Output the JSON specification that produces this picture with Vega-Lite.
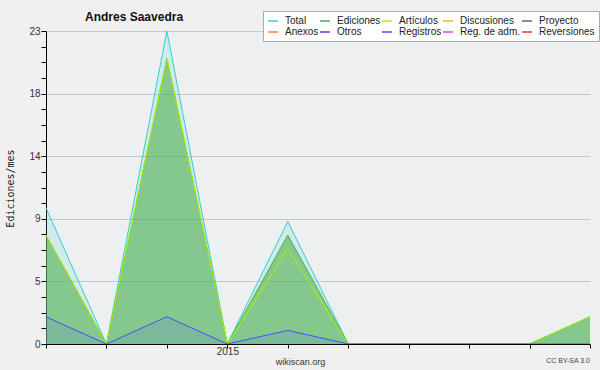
{
  "$schema": "https://vega.github.io/schema/vega-lite/v6.json",
  "width": 544,
  "height": 313,
  "autosize": "none",
  "padding": {"left": 46, "top": 31, "right": 10, "bottom": 26},
  "background": "#f0f0f0",
  "config": {"view": {"fill": "#eeeff1", "stroke": null}, "font": "Liberation Sans"},
  "title": {"text": "Andres Saavedra", "font": "Liberation Sans", "fontSize": 12, "fontWeight": "bold", "color": "#111111", "anchor": "start", "frame": "group", "dx": 39, "baseline": "alphabetic", "offset": -22},
  "data": {"values": [
    {"m": "2014-10", "s": "Total", "v": 10}, {"m": "2014-11", "s": "Total", "v": 0}, {"m": "2014-12", "s": "Total", "v": 23}, {"m": "2015-01", "s": "Total", "v": 0}, {"m": "2015-02", "s": "Total", "v": 9}, {"m": "2015-03", "s": "Total", "v": 0}, {"m": "2015-04", "s": "Total", "v": 0}, {"m": "2015-05", "s": "Total", "v": 0}, {"m": "2015-06", "s": "Total", "v": 0}, {"m": "2015-07", "s": "Total", "v": 2},
    {"m": "2014-10", "s": "Ediciones", "v": 8}, {"m": "2014-11", "s": "Ediciones", "v": 0}, {"m": "2014-12", "s": "Ediciones", "v": 21}, {"m": "2015-01", "s": "Ediciones", "v": 0}, {"m": "2015-02", "s": "Ediciones", "v": 8}, {"m": "2015-03", "s": "Ediciones", "v": 0}, {"m": "2015-04", "s": "Ediciones", "v": 0}, {"m": "2015-05", "s": "Ediciones", "v": 0}, {"m": "2015-06", "s": "Ediciones", "v": 0}, {"m": "2015-07", "s": "Ediciones", "v": 2},
    {"m": "2014-10", "s": "Artículos", "v": 8}, {"m": "2014-11", "s": "Artículos", "v": 0}, {"m": "2014-12", "s": "Artículos", "v": 21}, {"m": "2015-01", "s": "Artículos", "v": 0}, {"m": "2015-02", "s": "Artículos", "v": 7}, {"m": "2015-03", "s": "Artículos", "v": 0}, {"m": "2015-04", "s": "Artículos", "v": 0}, {"m": "2015-05", "s": "Artículos", "v": 0}, {"m": "2015-06", "s": "Artículos", "v": 0}, {"m": "2015-07", "s": "Artículos", "v": 2},
    {"m": "2014-10", "s": "Registros", "v": 2}, {"m": "2014-11", "s": "Registros", "v": 0}, {"m": "2014-12", "s": "Registros", "v": 2}, {"m": "2015-01", "s": "Registros", "v": 0}, {"m": "2015-02", "s": "Registros", "v": 1}, {"m": "2015-03", "s": "Registros", "v": 0}, {"m": "2015-04", "s": "Registros", "v": 0}, {"m": "2015-05", "s": "Registros", "v": 0}, {"m": "2015-06", "s": "Registros", "v": 0}, {"m": "2015-07", "s": "Registros", "v": 0}
  ]},
  "encoding": {
    "x": {
      "field": "m", "type": "ordinal",
      "scale": {"type": "point", "padding": 0, "domain": ["2014-10", "2014-11", "2014-12", "2015-01", "2015-02", "2015-03", "2015-04", "2015-05", "2015-06", "2015-07"]},
      "axis": {
        "title": "wikiscan.org", "titleFont": "Liberation Sans", "titleFontSize": 9, "titleFontWeight": "normal", "titleColor": "#333333",
        "titleX": 254, "titleY": 17, "titleBaseline": "middle", "titleAlign": "center",
        "labelExpr": "datum.value == '2015-01' ? '2015' : ''", "labelAngle": 0, "labelFont": "Liberation Sans", "labelFontSize": 10, "labelColor": "#333333",
        "labelPadding": -2, "labelBaseline": "top", "tickSize": 4, "tickColor": "#000000", "domainColor": "#000000", "grid": false, "zindex": 1, "labelOverlap": false
      }
    },
    "y": {
      "field": "v", "type": "quantitative", "stack": null,
      "scale": {"domain": [0, 23], "nice": false},
      "axis": {
        "title": "Ediciones/mes", "titleFont": "DejaVu Sans Mono", "titleFontSize": 10, "titleFontWeight": "normal", "titleColor": "#222222",
        "titleX": -36, "titleY": 157, "titleAngle": -90, "titleAlign": "center", "titleBaseline": "middle",
        "values": [0, 1.15, 2.3, 3.45, 4.6, 5.75, 6.9, 8.05, 9.2, 10.35, 11.5, 12.65, 13.8, 14.95, 16.1, 17.25, 18.4, 19.55, 20.7, 21.85, 23],
        "labelExpr": "abs(datum.value/4.6 - round(datum.value/4.6)) < 0.01 ? format(datum.value, '.0f') : ''",
        "labelFont": "Liberation Sans", "labelFontSize": 10, "labelColor": "#333333", "labelPadding": 1, "labelOverlap": false,
        "tickSize": 5, "tickColor": "#000000", "domainColor": "#000000",
        "grid": true, "gridColor": "#c8c8c8",
        "gridOpacity": {"condition": {"test": "abs(datum.value/4.6 - round(datum.value/4.6)) < 0.01 && datum.value > 0", "value": 1}, "value": 0},
        "zindex": 0
      }
    }
  },
  "layer": [
    {"transform": [{"filter": "datum.s == 'Total'"}], "mark": {"type": "area", "color": "#2ed2cc", "fillOpacity": 0.15}},
    {"transform": [{"filter": "datum.s == 'Ediciones'"}], "mark": {"type": "area", "color": "#50b050", "fillOpacity": 0.6}},
    {"transform": [{"filter": "datum.s == 'Registros'"}], "mark": {"type": "area", "color": "#4050ff", "fillOpacity": 0.12}},
    {
      "transform": [{"filter": "datum.s == 'Total'"}],
      "mark": {"type": "line", "strokeWidth": 1},
      "encoding": {
        "color": {
          "field": "s", "type": "nominal",
          "scale": {
            "domain": ["Total", "Ediciones", "Artículos", "Discusiones", "Proyecto", "Anexos", "Otros", "Registros", "Reg. de adm.", "Reversiones"],
            "range": ["#2ed2cc", "#50b050", "#b4f000", "#f0c000", "#666666", "#f08040", "#8030e0", "#4050ff", "#e040f0", "#f03030"]
          },
          "legend": {
            "orient": "none", "legendX": 217, "legendY": -20, "columns": 5, "direction": "horizontal", "title": null,
            "symbolType": "stroke", "symbolSize": 100, "symbolStrokeWidth": 1.5,
            "labelFont": "Liberation Sans", "labelFontSize": 10, "labelColor": "#222222", "labelOffset": 6, "labelLimit": 200,
            "columnPadding": -2, "rowPadding": -1, "padding": 4, "fillColor": "#ffffff", "strokeColor": "#aaaaaa"
          }
        }
      }
    },
    {"transform": [{"filter": "datum.s == 'Ediciones'"}], "mark": {"type": "line", "strokeWidth": 1}, "encoding": {"color": {"field": "s", "type": "nominal"}}},
    {"transform": [{"filter": "datum.s == 'Artículos'"}], "mark": {"type": "line", "strokeWidth": 1}, "encoding": {"color": {"field": "s", "type": "nominal"}}},
    {"transform": [{"filter": "datum.s == 'Registros'"}], "mark": {"type": "line", "strokeWidth": 1}, "encoding": {"color": {"field": "s", "type": "nominal"}}},
    {
      "data": {"values": [{"m": "2015-07", "v": 0, "t": "CC BY-SA 3.0"}]},
      "mark": {"type": "text", "align": "right", "baseline": "middle", "dy": 17, "fontSize": 7, "font": "Liberation Sans", "color": "#444444"},
      "encoding": {"text": {"field": "t", "type": "nominal"}}
    }
  ]
}
